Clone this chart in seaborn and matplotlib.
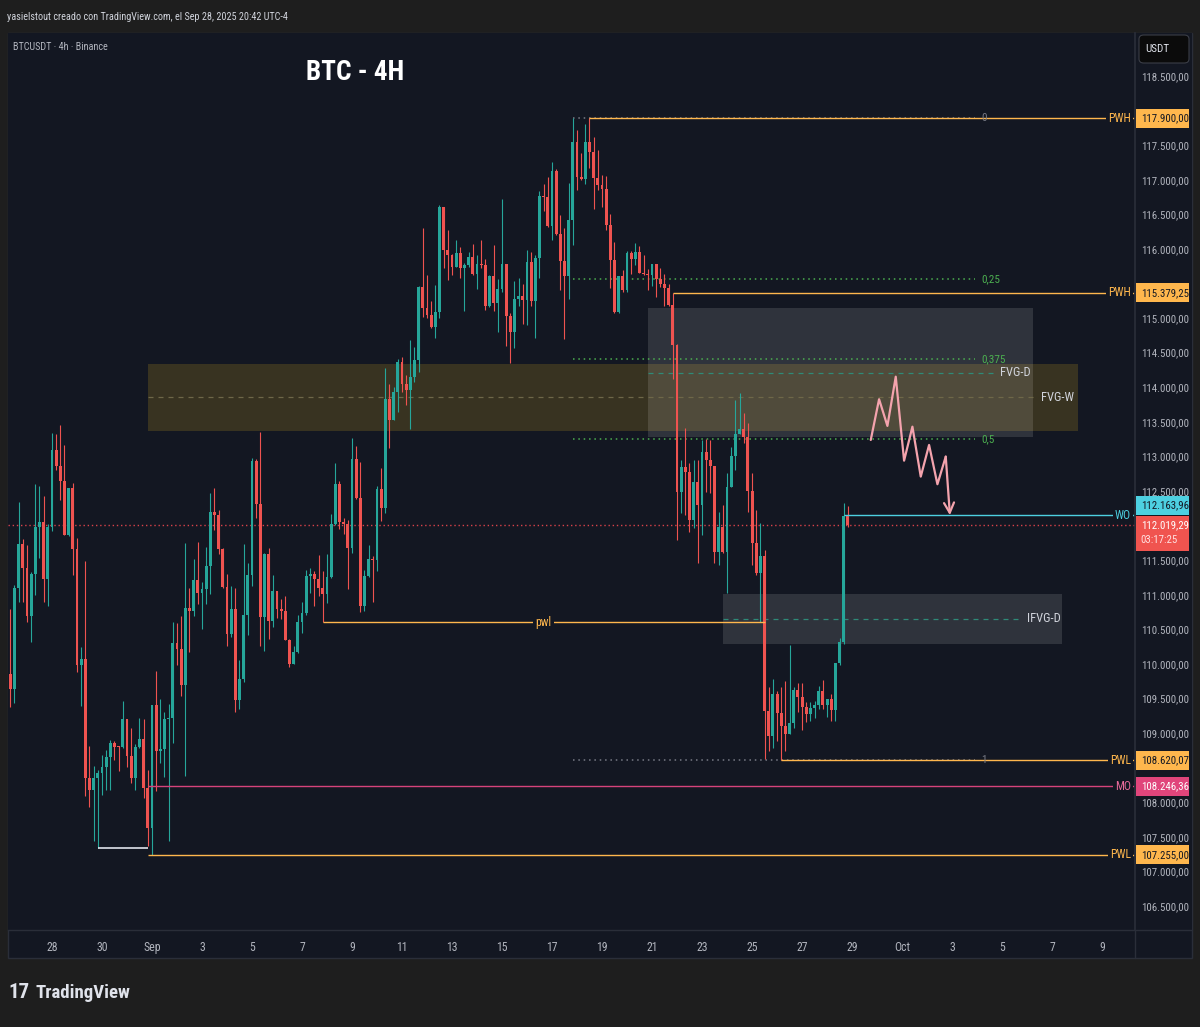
import matplotlib
matplotlib.use("Agg")
import matplotlib.pyplot as plt
import matplotlib.dates as mdates
from matplotlib import font_manager
from matplotlib.font_manager import FontProperties
from matplotlib.patches import Rectangle, FancyBboxPatch
import numpy as np
import pandas as pd
import seaborn as sns

# ---------------- data ----------------
first_candle = "2025-08-26 08:00"
first_open = 109869

close = [
    109657, 111112, 111748, 111406, 110707, 111314, 111994, 112066, 111242, 111999,
    113107, 112881, 112664, 111883, 112558, 111681, 110004, 110086, 108370, 108197,
    108365, 108437, 108524, 108669, 108871, 108818, 108813, 109218, 108688, 108370,
    108813, 108929, 108225, 107647, 109421, 108760, 108784, 109218, 109237, 110317,
    110225, 109710, 110818, 110784, 111228, 111035, 111098, 111430, 112211, 112167,
    111681, 111131, 110452, 110808, 109498, 109797, 110722, 111300, 112948, 112331,
    110698, 111604, 110640, 111069, 110813, 110775, 110360, 110018, 110187, 110620,
    110746, 111286, 111319, 111242, 111117, 111030, 111271, 112037, 112616, 112071,
    112042, 111695, 112977, 112418, 110857, 111286, 111531, 111517, 112543, 112273,
    113844, 113546, 113946, 114374, 114066, 113979, 114162, 114403, 115468, 115160,
    115059, 114885, 115102, 116620, 116003, 115926, 115757, 115955, 115743, 115786,
    115897, 115651, 115796, 115782, 115189, 115623, 115232, 115435, 115796, 115044,
    114818, 115290, 115333, 115276, 115825, 115261, 115883, 116779, 116765, 116345,
    117141, 116235, 115839, 115627, 116432, 117560, 117054, 117025, 117560, 117415,
    117039, 116938, 116880, 116360, 115854, 115102, 115623, 115420, 115955, 115868,
    115970, 115666, 115651, 115637, 115796, 115579, 115507, 115449, 115203, 114625,
    112505, 112862, 112789, 112095, 112650, 112312, 113074, 112963, 112876, 111638,
    111999, 111638, 112577, 113025, 113334, 113411, 113290, 112519, 111758, 111334,
    111575, 109339, 108978, 109580, 109310, 109122, 109007, 109161, 109638, 109542,
    109397, 109296, 109383, 109421, 109624, 109426, 109508, 109354, 110028, 110332,
    112154, 112019,
]

high = [
    110808, 111155, 112355, 111820, 111734, 111348, 112616, 112587, 112442, 112037,
    113358, 113338, 113469, 113179, 112558, 112635, 111835, 110264, 111502, 108828,
    108539, 108481, 108698, 108770, 108915, 108905, 108828, 109478, 109218, 109083,
    108857, 109228, 109218, 108481, 109421, 109912, 109507, 109324, 109435, 110620,
    110606, 110707, 111758, 111107, 111531, 111777, 111204, 111705, 112485, 112558,
    112240, 111690, 111314, 111141, 111112, 110071, 111748, 111473, 112991, 112972,
    113367, 111618, 111690, 111300, 111069, 110953, 110996, 110380, 110278, 110722,
    110910, 111372, 111401, 111358, 111589, 111358, 111604, 112182, 112919, 112659,
    112124, 112095, 113281, 113165, 112934, 111372, 111734, 111575, 112587, 112847,
    114288, 114061, 114013, 114418, 114452, 114187, 114697, 114596, 115478, 116316,
    115637, 115261, 115492, 116649, 116620, 116288, 115941, 116143, 116042, 115806,
    115970, 116085, 115926, 116143, 115868, 115637, 116071, 115579, 116736, 115796,
    115088, 115550, 115594, 115507, 115998, 115970, 115926, 116851, 116953, 117054,
    117271, 117169, 116504, 116317, 116967, 117900, 117733, 117401, 117820, 117900,
    117632, 117444, 117083, 117068, 116519, 116114, 115623, 115709, 115984, 115984,
    116100, 116056, 115926, 115724, 115796, 115796, 115738, 115651, 115507, 115379,
    114640, 112963, 113420, 112915, 112963, 112963, 113252, 113266, 113252, 112876,
    112216, 112308, 112770, 113156, 113830, 113927, 113637, 113502, 112770, 112240,
    112050, 111662, 109686, 109797, 109629, 109686, 109768, 110289, 109686, 109739,
    109739, 109465, 109465, 109484, 109696, 109783, 109508, 109580, 110028, 110390,
    112342, 112298,
]

low = [
    109397, 109454, 110914, 110914, 110625, 110336, 111011, 111541, 110914, 110857,
    111941, 112818, 112384, 111878, 111869, 111300, 109902, 109411, 108110, 107941,
    107459, 107348, 108119, 108192, 108192, 108625, 108471, 108799, 108529, 108298,
    108192, 108794, 108081, 107382, 107255, 108182, 108577, 108384, 107459, 108876,
    109999, 109551, 108394, 110192, 110712, 110881, 110519, 110885, 111025, 111951,
    111604, 111107, 110278, 110404, 109324, 109368, 109758, 110433, 111146, 112129,
    110278, 110206, 110380, 110553, 110683, 110668, 110360, 109975, 110018, 110177,
    110466, 110722, 111045, 110857, 111001, 110620, 110900, 111252, 112018, 111970,
    111898, 111102, 111623, 112404, 110770, 110784, 111276, 110914, 111363, 112085,
    112200, 113141, 113541, 113661, 113946, 113758, 113411, 114090, 114240, 115030,
    115010, 114866, 114731, 115010, 115743, 115565, 115637, 115757, 115598, 115121,
    115757, 115637, 115435, 115738, 115131, 115174, 115117, 114813, 115391, 114615,
    114365, 114587, 115189, 114929, 114914, 115189, 114731, 115594, 116562, 116330,
    116143, 116215, 115420, 114712, 115290, 116071, 116866, 117006, 116953, 117184,
    116591, 116866, 116620, 116288, 115449, 115088, 115088, 115391, 115391, 115651,
    115782, 115666, 115637, 115420, 115478, 115319, 115464, 115189, 115189, 114134,
    111806, 112192, 112168, 111927, 111975, 111469, 111879, 112505, 112481, 111469,
    111445, 111614, 111035, 113010, 112818, 113397, 113204, 112216, 111445, 111300,
    110626, 108640, 108761, 108804, 108906, 108620, 108761, 109007, 109094, 109325,
    109065, 109180, 109195, 109238, 109368, 109368, 109253, 109195, 109195, 110004,
    110303, 111990,
]

current_price = 112019.29
countdown = "03:17:25"

# key levels: value, name, first candle index
level_values = [117900.00, 115379.25, 112163.96, 108620.07, 108246.36, 107255.00]
level_names = ["PWH", "PWH", "WO", "PWL", "MO", "PWL"]
level_start = [139, 159, 200, 185, 33, 33]

pwl_local = 110616
pwl_local_span = (75, 181)
swing_low = 107348
swing_low_span = (21, 33)

# fibonacci retracement 0 -> 117900, 1 -> 108620.07
fib_top, fib_bottom = 117900.00, 108620.07
fib_ratios = [0, 0.25, 0.375, 0.5, 1]
fib_names = ["0", "0,25", "0,375", "0,5", "1"]
fib_start_idx = 135
fib_end = "2025-10-03 22:00"
fib_label_at = "2025-10-04 04:00"

# zones: name, first candle, end time, bottom, top
zone_names = ["FVG-W", "FVG-D", "IFVG-D"]
zone_start = [33, 153, 171]
zone_end = ["2025-10-08 01:00", "2025-10-06 06:00", "2025-10-07 10:00"]
zone_bottom = [113382, 113295, 110303]
zone_top = [114350, 115155, 111026]
zone_mid_end = ["2025-10-06 08:00", "2025-10-04 15:00", "2025-10-05 20:00"]
zone_label_at = ["2025-10-06 13:30", "2025-10-04 22:00", "2025-10-06 00:00"]

# projected zig-zag path
zz_time = ["2025-09-29 18:00", "2025-09-30 02:00", "2025-09-30 10:00", "2025-09-30 18:00",
           "2025-10-01 02:00", "2025-10-01 10:00", "2025-10-01 18:00", "2025-10-02 02:00",
           "2025-10-02 10:00", "2025-10-02 18:00", "2025-10-02 22:00"]
zz_price = [113252, 113841, 113455, 114167, 112953, 113444, 112722, 113180,
            112612, 113011, 112164]

tick_dates = ["2025-08-28", "2025-08-30", "2025-09-01", "2025-09-03", "2025-09-05",
              "2025-09-07", "2025-09-09", "2025-09-11", "2025-09-13", "2025-09-15",
              "2025-09-17", "2025-09-19", "2025-09-21", "2025-09-23", "2025-09-25",
              "2025-09-27", "2025-09-29", "2025-10-01", "2025-10-03", "2025-10-05",
              "2025-10-07", "2025-10-09"]
tick_labels = ["28", "30", "Sep", "3", "5", "7", "9", "11", "13", "15", "17", "19",
               "21", "23", "25", "27", "29", "Oct", "3", "5", "7", "9"]
price_ticks = list(range(106500, 119000, 500))

# ---------------- style ----------------
BG = "#131722"
OUTER = "#1e1e1e"
BORDER = "#2a2e39"
TXT = "#b2b5be"
UP = "#26a69a"
DN = "#ef5350"
ORANGE = "#ffb74d"
CYAN = "#4dd0e1"
PINK = "#e0457b"
RED = "#f0544f"
GREEN = "#4caf50"
GREY = "#787b86"

sns.set_theme(style="dark", rc={"axes.facecolor": BG, "figure.facecolor": OUTER})


def pick_font(names):
    for n in names:
        try:
            font_manager.findfont(FontProperties(family=n), fallback_to_default=False)
            return n
        except Exception:
            continue
    return "DejaVu Sans"


NARROW = pick_font(["Liberation Sans Narrow", "Roboto Condensed", "Liberation Sans"])
plt.rcParams["font.family"] = [NARROW, "DejaVu Sans"]

W, H = 1200, 1027
fig = plt.figure(figsize=(W / 100, H / 100), dpi=100)


def fx(px):
    return px / W


def fy(py):
    return 1 - py / H


# chart pane background + frame (behind the axes)
fig.patches.append(Rectangle((fx(8), fy(958)), fx(1192) - fx(8), fy(33) - fy(958),
                             transform=fig.transFigure, facecolor=BG,
                             edgecolor=BORDER, lw=1, zorder=-5))

ax = fig.add_axes([fx(8), fy(930), fx(1135) - fx(8), fy(33) - fy(930)])
ax_p = fig.add_axes([fx(1135), fy(930), fx(1192) - fx(1135), fy(33) - fy(930)], sharey=ax)
ax.set_facecolor(BG)
ax_p.set_facecolor(BG)

times = pd.date_range(first_candle, periods=len(close), freq="4h")
x = mdates.date2num(times)
c = np.array(close, dtype=float)
o = np.r_[first_open, c[:-1]]
h = np.maximum(np.array(high, dtype=float), np.maximum(o, c))
l = np.minimum(np.array(low, dtype=float), np.minimum(o, c))
col = np.where(c >= o, UP, DN)

day0 = mdates.date2num(pd.Timestamp("2025-08-28"))
X0, X1 = day0 - 44 / 25, day0 + (1135 - 52) / 25
Y_TOP, Y_BOT = 119136, 106167
ax.set_xlim(X0, X1)
ax.set_ylim(Y_BOT, Y_TOP)
ppp = (Y_TOP - Y_BOT) / (930 - 33)  # price per pixel


def px_x(px):
    return X0 + (px - 8) / (1135 - 8) * (X1 - X0)


def t2x(s):
    return mdates.date2num(pd.Timestamp(s))


# zones
zone_fill = ["#3b3521", "#ffffff", "#ffffff"]
zone_alpha = [0.95, 0.12, 0.12]
zone_mid_col = ["#6e6748", "#2f8a78", "#2f8a78"]
for k in range(3):
    xs = x[zone_start[k]]
    xe = t2x(zone_end[k])
    ax.add_patch(Rectangle((xs, zone_bottom[k]), xe - xs, zone_top[k] - zone_bottom[k],
                           facecolor=zone_fill[k], alpha=zone_alpha[k], lw=0, zorder=1))
    mid = (zone_bottom[k] + zone_top[k]) / 2
    ax.hlines(mid, xs, t2x(zone_mid_end[k]), colors=zone_mid_col[k], lw=0.9,
              linestyles=(0, (4, 4)), zorder=2)
    ax.text(t2x(zone_label_at[k]), mid, zone_names[k], color="#d1d4dc", fontsize=9,
            ha="left", va="center", zorder=6)

# fibonacci
fx0, fx1 = x[fib_start_idx], t2x(fib_end)
for r, name in zip(fib_ratios, fib_names):
    lv = fib_top - r * (fib_top - fib_bottom)
    cc = GREY if r in (0, 1) else GREEN
    ax.hlines(lv, fx0, fx1, colors=cc, lw=1.1, linestyles=(0, (1, 2.5)), zorder=2)
    ax.text(t2x(fib_label_at), lv, name, color=cc, fontsize=8, ha="left",
            va="center", zorder=6)

# candles
ax.vlines(x, l, h, colors=col, lw=0.8, zorder=3)
ax.bar(x, np.maximum(np.abs(c - o), 12), bottom=np.minimum(o, c), width=0.12,
       color=col, lw=0, zorder=4)

# current price dotted line
ax.axhline(current_price, color="#d8424a", lw=1.0, ls=(0, (1, 2)), zorder=2.5)

# key levels
level_line_col = [ORANGE, ORANGE, CYAN, ORANGE, "#d6437b", ORANGE]
level_text_col = [ORANGE, ORANGE, CYAN, ORANGE, "#e76b9b", ORANGE]
for v, name, s, lc, tc in zip(level_values, level_names, level_start,
                               level_line_col, level_text_col):
    ax.hlines(v, x[s], px_x(1134), colors=lc, lw=1.0, zorder=5)
    ax.text(px_x(1131), v, name, color=tc, fontsize=8.5, ha="right", va="center",
            zorder=6, bbox=dict(boxstyle="square,pad=0.15", fc=BG, ec="none"))

ax.hlines(pwl_local, x[pwl_local_span[0]], x[pwl_local_span[1]], colors=ORANGE,
          lw=1.0, zorder=5)
ax.text((x[pwl_local_span[0]] + x[pwl_local_span[1]]) / 2, pwl_local, "pwl",
        color=ORANGE, fontsize=8.5, ha="center", va="center", zorder=6,
        bbox=dict(boxstyle="square,pad=0.2", fc=BG, ec="none"))
ax.hlines(swing_low, x[swing_low_span[0]], x[swing_low_span[1]], colors="#e0e3eb",
          lw=1.2, zorder=5)

# projected path
zx = mdates.date2num(pd.to_datetime(zz_time))
sns.lineplot(x=zx[:-1], y=zz_price[:-1], sort=False, estimator=None, ax=ax,
             color="#f4a3ad", lw=1.6, zorder=7)
ax.annotate("", xy=(zx[-1], zz_price[-1]), xytext=(zx[-2], zz_price[-2]),
            arrowprops=dict(arrowstyle="->", color="#f4a3ad", lw=1.6,
                            mutation_scale=18, shrinkA=0, shrinkB=0), zorder=7)

# x axis
ax.set_xticks(mdates.date2num(pd.to_datetime(tick_dates)))
ax.set_xticklabels(tick_labels)
ax.tick_params(axis="x", colors=TXT, length=0, pad=8, labelsize=8.5)
ax.set_yticks([])
ax.grid(False)
for sp in ["top", "left", "right"]:
    ax.spines[sp].set_visible(False)
ax.spines["bottom"].set_color(BORDER)
ax.spines["bottom"].set_linewidth(1)

# price axis
ax_p.set_xlim(0, 1)
ax_p.set_xticks([])
ax_p.tick_params(axis="y", length=0, labelleft=False)
ax_p.grid(False)
for sp in ["top", "right", "bottom"]:
    ax_p.spines[sp].set_visible(False)
ax_p.spines["left"].set_color(BORDER)


def fmt(v):
    return f"{v:,.2f}".replace(",", "X").replace(".", ",").replace("X", ".")


box_col = [ORANGE, ORANGE, CYAN, ORANGE, PINK, ORANGE]
box_txt = [BG, BG, BG, BG, "white", BG]
box_shift = [0, 0, 10, 0, 0, 0]  # cyan label pushed up by the last-price label
box_spans = [(v + sh * ppp - 9.5 * ppp, v + sh * ppp + 9.5 * ppp)
             for v, sh in zip(level_values, box_shift)]
box_spans.append((current_price - 26 * ppp, current_price + 9 * ppp))

for v in price_ticks:
    # ticks fully hidden behind a coloured label are not drawn
    if any(lo - 2 * ppp < v < hi + 2 * ppp for lo, hi in box_spans):
        continue
    ax_p.text(0.53, v, fmt(v), color=TXT, fontsize=7.8, ha="center", va="center",
              zorder=2)

for v, bc, tc, sh in zip(level_values, box_col, box_txt, box_shift):
    yc = v + sh * ppp
    ax_p.add_patch(Rectangle((0.02, yc - 9.5 * ppp), 0.93, 19 * ppp, facecolor=bc,
                             edgecolor="none", zorder=5))
    ax_p.text(0.1, yc, fmt(v), color=tc, fontsize=7.8, ha="left", va="center", zorder=6)

ax_p.add_patch(Rectangle((0.02, current_price - 26 * ppp), 0.93, 35 * ppp,
                         facecolor=RED, edgecolor="none", zorder=5))
ax_p.text(0.1, current_price, fmt(current_price), color="white", fontsize=7.8,
          ha="left", va="center", zorder=6)
ax_p.text(0.1, current_price - 15 * ppp, countdown, color="#ffe0e0", fontsize=7.8,
          ha="left", va="center", zorder=6)

# USDT badge
fig.patches.append(FancyBboxPatch((fx(1139), fy(63)), fx(1189) - fx(1139), fy(35) - fy(63),
                                  boxstyle="round,pad=0,rounding_size=0.004",
                                  transform=fig.transFigure, facecolor="#0b0b0b",
                                  edgecolor="#3b3e47", lw=0.8, zorder=10))
fig.text(fx(1145), fy(49), "USDT", color="#e0e3eb", fontsize=8, ha="left",
         va="center", zorder=11)

# corner divider lines
fig.add_artist(plt.Line2D([fx(1135), fx(1135)], [fy(930), fy(958)],
                          transform=fig.transFigure, color=BORDER, lw=1))
fig.add_artist(plt.Line2D([fx(1135), fx(1192)], [fy(930), fy(930)],
                          transform=fig.transFigure, color=BORDER, lw=1))

# header texts
fig.text(fx(7), fy(17), "yasielstout creado con TradingView.com, el Sep 28, 2025 20:42 UTC-4",
         color="#d1d4dc", fontsize=7.3, ha="left", va="center")
fig.text(fx(13), fy(47), "BTCUSDT · 4h · Binance", color=TXT, fontsize=7.3, ha="left",
         va="center")
fig.text(fx(355), fy(73), "BTC - 4H", color="white", fontsize=19.5, fontweight="bold",
         ha="center", va="center")

# footer logo
fig.text(fx(8), fy(993), "17", color="#e0e3eb", fontsize=15, fontweight="heavy",
         ha="left", va="center")
fig.text(fx(36), fy(993), "TradingView", color="#e0e3eb", fontsize=13.5,
         fontweight="bold", ha="left", va="center")

fig.savefig("out.png", dpi=100, facecolor=OUTER)
